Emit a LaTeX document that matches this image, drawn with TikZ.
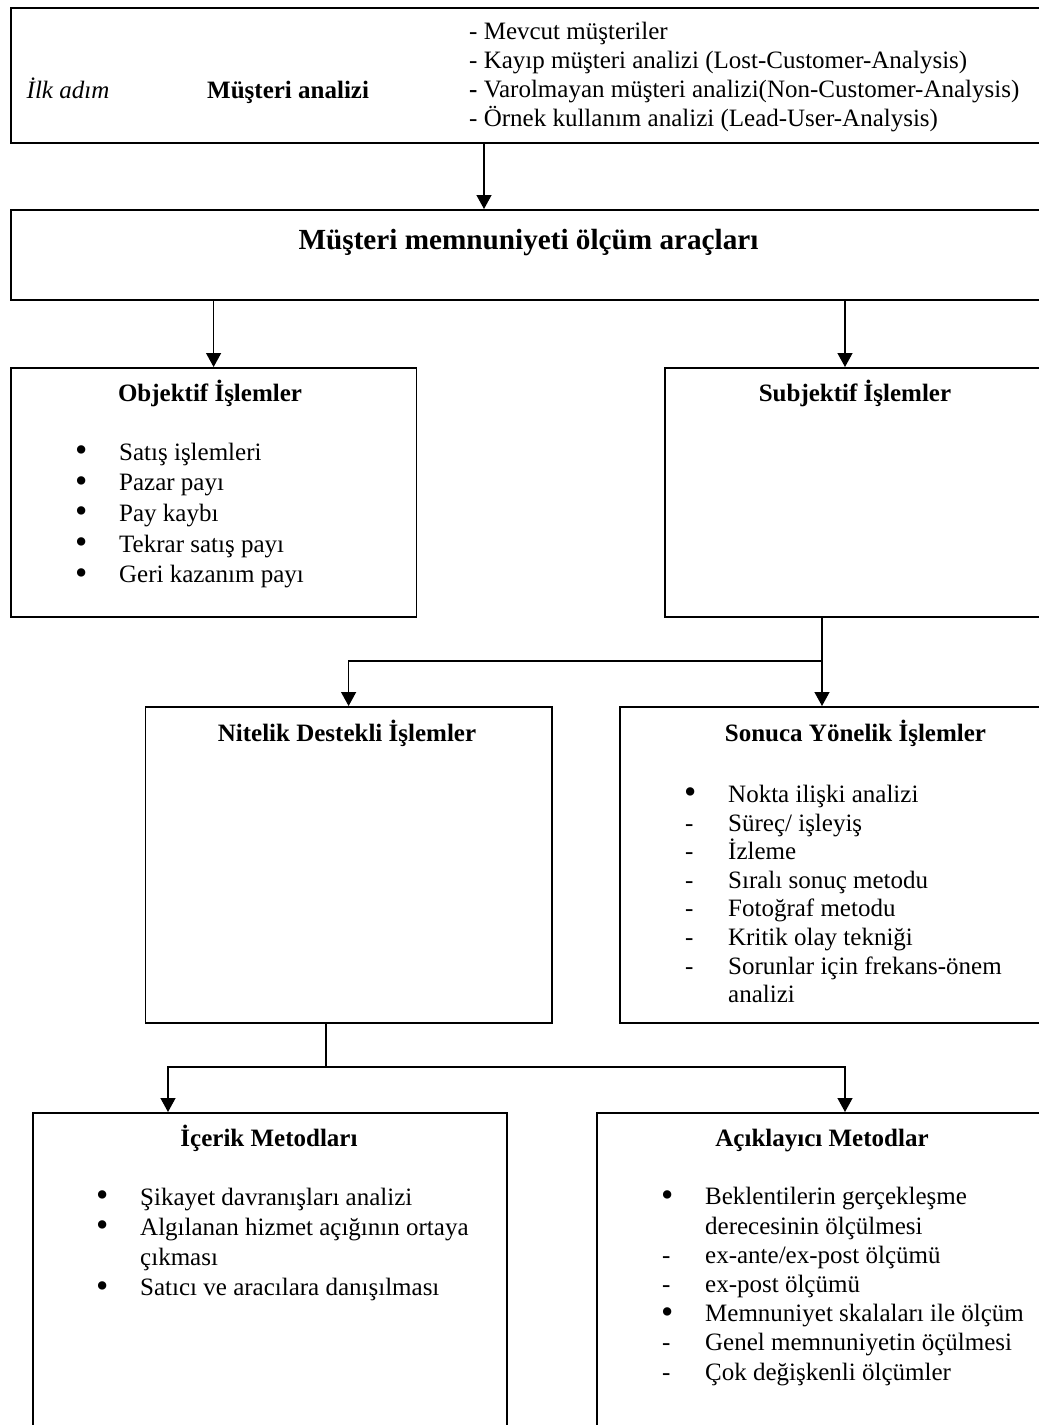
\documentclass[tikz,border=0pt]{standalone}
\usepackage{fontspec}
\setmainfont{Liberation Serif}
\usetikzlibrary{arrows.meta}
\newcommand{\bul}{\makebox[43pt][l]{\hspace*{-1pt}\smash{\raisebox{-0.06em}{\scalebox{1.4}{\textbullet}}}}}
\newcommand{\dsh}{\makebox[43pt][l]{-}}

\begin{document}
\begin{tikzpicture}[x=1pt, y=-1pt]
		\tikzset{
		    box/.style= {draw, rectangle, line width=1.7pt, anchor=north west, inner sep=0pt},
		    head/.style= {font=\fontsize{25}{28.8}\selectfont\bfseries, inner sep=0pt, anchor=base},
		    txt/.style= {font=\fontsize{25}{#1}\selectfont, align=left, inner sep=0pt, anchor=west},
		    conn/.style= {line width=1.3pt},
		    arr/.style= {line width=1.3pt, -{Triangle[width=15pt, length=14pt]}},
		}
		\useasboundingbox (0,0) rectangle (1039,1425);
		
		% first step
		\node[box, minimum width=1040pt, minimum height=135pt] (top) at (10,7) {};
		\node[font=\fontsize{25}{28.8}\selectfont\itshape, inner sep=0pt, anchor=base west] (step) at (26.5,98) {İlk adım};
		\node[head, anchor=base west] (custan) at (207,98) {Müşteri analizi};
		\node[txt=28.7] (custlist) at (469,77) {- Mevcut müşteriler\\
		    - Kayıp müşteri analizi (Lost-Customer-Analysis)\\
		    \textbf{-} Varolmayan müşteri analizi(Non-Customer-Analysis)\\
		    - Örnek kullanım analizi (Lead-User-Analysis)};
		
		% tools
		\node[box, minimum width=1040pt, minimum height=90pt] (tools) at (10,209) {};
		\node[head, font=\fontsize{29.2}{33}\selectfont\bfseries] (toolst) at (528.5,249) {Müşteri memnuniyeti ölçüm araçları};
		
		\node[box, minimum width=405.5pt, minimum height=249pt] (obj) at (10,367) {};
		\node[head] (objt) at (210,401) {Objektif İşlemler};
		\node[txt=30.7] (objlist) at (76,515.5) {\bul Satış işlemleri\\
		    \bul Pazar payı\\
		    \bul Pay kaybı\\
		    \bul Tekrar satış payı\\
		    \bul Geri kazanım payı};
		
		\node[box, minimum width=386pt, minimum height=249pt] (subj) at (664,367) {};
		\node[head] (subjt) at (855,401) {Subjektif İşlemler};
		
		% subjective branches
		\node[box, minimum width=406.5pt, minimum height=316pt] (attr) at (144.5,706) {};
		\node[head] (attrt) at (347,741) {Nitelik Destekli İşlemler};
		
		\node[box, minimum width=431pt, minimum height=316pt] (res) at (619,706) {};
		\node[head] (rest) at (855.5,741) {Sonuca Yönelik İşlemler};
		\node[txt=28.6] (reslist) at (685,894) {\bul Nokta ilişki analizi\\
		    \dsh Süreç/ işleyiş\\
		    \dsh İzleme\\
		    \dsh Sıralı sonuç metodu\\
		    \dsh Fotoğraf metodu\\
		    \dsh Kritik olay tekniği\\
		    \dsh Sorunlar için frekans-önem\\
		    \hspace*{43pt}analizi};
		
		% methods
		\node[box, minimum width=474pt, minimum height=340pt] (cont) at (32,1112) {};
		\node[head] (contt) at (269,1146) {İçerik Metodları};
		\node[txt=30.3] (contlist) at (97,1244.5) {\bul Şikayet davranışları analizi\\
		    \bul Algılanan hizmet açığının ortaya\\
		    \hspace*{43pt}çıkması\\
		    \bul Satıcı ve aracılara danışılması};
		
		\node[box, minimum width=454pt, minimum height=340pt] (expl) at (596,1112) {};
		\node[head] (explt) at (822,1146) {Açıklayıcı Metodlar};
		\node[txt=29.2] (expllist) at (662,1286.5) {\bul Beklentilerin gerçekleşme\\
		    \hspace*{43pt}derecesinin ölçülmesi\\
		    \dsh ex-ante/ex-post ölçümü\\
		    \dsh ex-post ölçümü\\
		    \bul Memnuniyet skalaları ile ölçüm\\
		    \dsh Genel memnuniyetin öçülmesi\\
		    \dsh Çok değişkenli ölçümler};
		
		\coordinate (tj) at (484,0);
		\coordinate (sj) at (845,0);
		\coordinate (bj) at (822,661);
		\coordinate (cj) at (326,1067);
		\coordinate (cl) at (168,1067);
		\coordinate (cr) at (845,1067);
		
		\draw[arr] (top.south -| tj) -- (tools.north -| tj);
		\draw[arr] (tools.south -| obj.north) -- (obj.north);
		\draw[arr] (tools.south -| sj) -- (subj.north -| sj);
		\draw[conn] (subj.south -| bj) -- (bj);
		\draw[arr] (bj) -- (res.north -| bj);
		\draw[arr] (bj) -| (attr.north);
		\draw[conn] (attr.south -| cj) -- (cj);
		\draw[arr] (cj) -- (cl) -- (cont.north -| cl);
		\draw[arr] (cj) -- (cr) -- (expl.north -| cr);
	\end{tikzpicture}
\end{document}
